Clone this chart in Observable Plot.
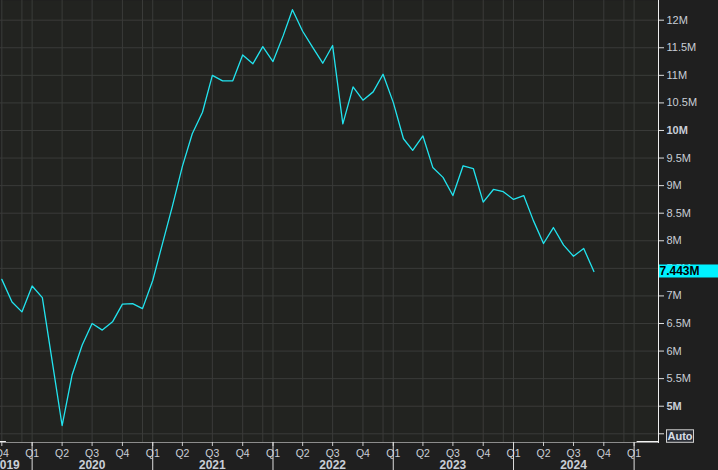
<!DOCTYPE html>
<html>
<head>
<meta charset="utf-8">
<script src="https://cdn.jsdelivr.net/npm/d3@7"></script>
<script src="https://cdn.jsdelivr.net/npm/@observablehq/plot@0.6"></script>
<style>
  html, body { margin: 0; padding: 0; background: #1f1f1f; overflow: hidden; }
  #chart { position: relative; width: 718px; height: 470px; }
</style>
</head>
<body>
<div id="chart"></div>
<script>
// ---- data (job openings, millions, monthly) ----
const months = [
  "2019-10","2019-11","2019-12",
  "2020-01","2020-02","2020-03","2020-04","2020-05","2020-06","2020-07","2020-08","2020-09","2020-10","2020-11","2020-12",
  "2021-01","2021-02","2021-03","2021-04","2021-05","2021-06","2021-07","2021-08","2021-09","2021-10","2021-11","2021-12",
  "2022-01","2022-02","2022-03","2022-04","2022-05","2022-06","2022-07","2022-08","2022-09","2022-10","2022-11","2022-12",
  "2023-01","2023-02","2023-03","2023-04","2023-05","2023-06","2023-07","2023-08","2023-09","2023-10","2023-11","2023-12",
  "2024-01","2024-02","2024-03","2024-04","2024-05","2024-06","2024-07","2024-08","2024-09"
];
const values = [
  7.30, 6.89, 6.71,
  7.18, 6.97, 5.85, 4.65, 5.56, 6.11, 6.50, 6.38, 6.53, 6.85, 6.86, 6.77,
  7.28, 7.98, 8.61, 9.35, 9.94, 10.33, 11.00, 10.90, 10.90, 11.37, 11.21, 11.52,
  11.25, 11.72, 12.19, 11.80, 11.51, 11.22, 11.54, 10.12, 10.79, 10.55, 10.70, 11.02,
  10.51, 9.85, 9.64, 9.90, 9.33, 9.15, 8.82, 9.36, 9.31, 8.70, 8.93, 8.89,
  8.75, 8.82, 8.37, 7.95, 8.24, 7.92, 7.72, 7.86, 7.443
];
const lastLabel = "7.443M";

// axis ticks
const yTicks = [4.5, 5, 5.5, 6, 6.5, 7, 7.5, 8, 8.5, 9, 9.5, 10, 10.5, 11, 11.5, 12];
const yLabelsNormal = [5.5, 6, 6.5, 7, 7.5, 8, 8.5, 9, 9.5, 10.5, 11, 11.5, 12];
const yLabelsBold = [5, 10];
const quarterTicks = ["2019-10-01","2020-01-01","2020-04-01","2020-07-01","2020-10-01",
  "2021-01-01","2021-04-01","2021-07-01","2021-10-01","2022-01-01","2022-04-01","2022-07-01","2022-10-01",
  "2023-01-01","2023-04-01","2023-07-01","2023-10-01","2024-01-01","2024-04-01","2024-07-01","2024-10-01","2025-01-01"];
const decemberLines = ["2019-12-01","2020-12-01","2021-12-01","2022-12-01","2023-12-01","2024-12-01"];
const yearStarts = ["2020-01-01","2021-01-01","2022-01-01","2023-01-01","2024-01-01","2025-01-01"];
const yearLabels = ["2019","2020","2021","2022","2023","2024"];
const yearLabelDates = ["2019-10-15","2020-07-01","2021-07-01","2022-07-01","2023-07-01","2024-07-01"];
const xDomain = ["2019-09-27","2025-03-16"];
const yDomain = [4.342, 12.357];

// ---- build ----
const D = s => new Date(s.length === 7 ? s + "-01T00:00:00Z" : s + "T00:00:00Z");
const series = months.map((m, i) => ({date: D(m), value: values[i]}));
const qDates = quarterTicks.map(D);
const gridX = qDates.concat(decemberLines.map(D));
const years = yearLabels.map((t, i) => ({date: D(yearLabelDates[i]), text: t}));

const font = "Liberation Sans, Arial, sans-serif";
const labelFill = "#c9ced6";
const gridColor = "#3a3b39";
const fmtM = v => v + "M";

const plot = Plot.plot({
  width: 718,
  height: 470,
  marginLeft: 0,
  marginRight: 60,
  marginTop: 0,
  marginBottom: 28,
  style: {background: "#1f1f1f", fontFamily: font, overflow: "hidden"},
  x: {type: "utc", domain: xDomain.map(D)},
  y: {domain: yDomain},
  marks: [
    Plot.frame({fill: "#222320", stroke: null}),
    Plot.ruleY(yTicks, {stroke: gridColor, strokeWidth: 1}),
    Plot.ruleX(gridX, {stroke: gridColor, strokeWidth: 1}),
    Plot.line(series, {x: "date", y: "value", stroke: "#22e4ef", strokeWidth: 1.3}),
    Plot.frame({anchor: "bottom", stroke: "#8c8c8c"}),
    Plot.frame({anchor: "right", stroke: "#eeeeee"}),
    Plot.axisY({anchor: "right", ticks: yTicks, tickSize: 5, tickFormat: () => "", stroke: "#dddddd", label: null}),
    Plot.text(yLabelsNormal, {y: d => d, text: fmtM, frameAnchor: "right", textAnchor: "start", dx: 8,
      fill: labelFill, fontSize: 11, fontFamily: font}),
    Plot.text(yLabelsBold, {y: d => d, text: fmtM, frameAnchor: "right", textAnchor: "start", dx: 8,
      fill: labelFill, fontSize: 11, fontWeight: "bold", fontFamily: font}),
    Plot.axisX({ticks: qDates, tickSize: 4, tickPadding: 3, stroke: "#cccccc", fill: labelFill, fontSize: 10.5,
      fontFamily: font, label: null,
      tickFormat: d => "Q" + (Math.floor(d.getUTCMonth() / 3) + 1)}),
    Plot.axisX({ticks: yearStarts.map(D), tickSize: 28, tickFormat: () => "", stroke: "#dddddd", label: null}),
    Plot.text(years, {x: "date", text: "text", frameAnchor: "bottom", dy: 26, fill: labelFill,
      fontSize: 12, fontWeight: "bold", fontFamily: font})
  ]
});

document.getElementById("chart").appendChild(plot);

// last-value badge, positioned through the plot's own scales
const ys = plot.scale("y");
const yLast = ys.apply(values[values.length - 1]);
const svg = d3.select(plot);
const xR = 658;
const badge = svg.append("g").attr("text-anchor", "start");
badge.append("rect").attr("x", xR + 1).attr("y", yLast - 6.5).attr("width", 718 - xR).attr("height", 13).attr("fill", "#00f2ff");
badge.append("text").attr("x", xR + 1.5).attr("y", yLast).attr("dy", "0.36em").attr("text-anchor", "start")
  .attr("font-family", font).attr("font-size", 12).attr("font-weight", "bold").attr("fill", "#000")
  .text(lastLabel);

// white corner segment on the bottom edge and "Auto" button
const xs = plot.scale("x");
const yBottom = ys.apply(yDomain[0]);
svg.append("line").attr("x1", xs.apply(D("2025-01-10"))).attr("x2", xR).attr("y1", yBottom - 0.5).attr("y2", yBottom - 0.5)
  .attr("stroke", "#f2f2f2");
svg.append("line").attr("x1", 0).attr("x2", xs.apply(D("2019-10-15"))).attr("y1", yBottom - 0.5).attr("y2", yBottom - 0.5)
  .attr("stroke", "#f2f2f2");
const yAuto = ys.apply(4.5);
const auto = svg.append("g");
auto.append("rect").attr("x", 666.5).attr("y", yAuto - 3.5).attr("width", 27).attr("height", 12.5)
  .attr("fill", "#2b2e36").attr("stroke", "#cfcfcf").attr("stroke-width", 1);
auto.append("text").attr("x", 680).attr("y", yAuto + 2.8).attr("dy", "0.36em").attr("text-anchor", "middle")
  .attr("font-family", font).attr("font-size", 11).attr("font-weight", "bold").attr("fill", "#d8dde6")
  .text("Auto");
</script>
</body>
</html>
